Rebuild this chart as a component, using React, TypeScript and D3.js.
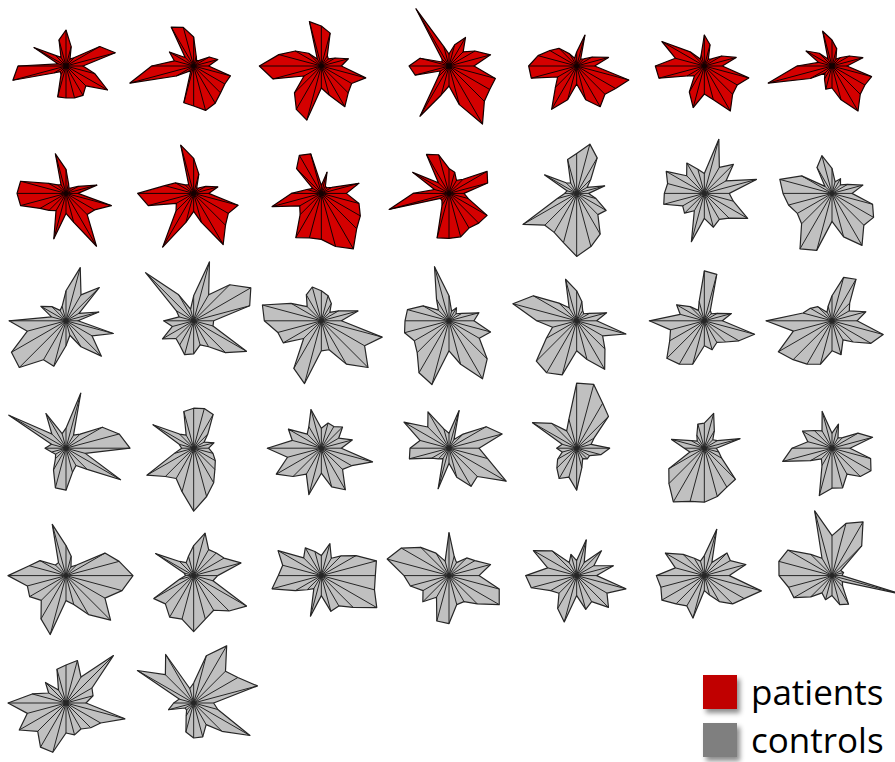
import React from "react";
import * as d3 from "d3";

// 24 measured variables per subject, spokes every 15° counter-clockwise from east
const VARIABLE_COUNT = 24;

const patientScores: number[][] = [
  [17, 51, 39, 12, 8, 20, 36, 27, 10, 15, 37, 8, 48, 55, 14, 8, 10, 32, 32, 33, 34, 28, 48, 30],
  [15, 25, 18, 8, 6, 10, 29, 40, 45, 12, 28, 20, 42, 66, 20, 8, 6, 38, 40, 46, 43, 38, 36, 38],
  [20, 28, 16, 10, 12, 34, 40, 46, 8, 18, 30, 44, 62, 50, 20, 38, 50, 56, 22, 30, 47, 38, 35, 46],
  [25, 43, 30, 20, 33, 22, 12, 20, 66, 10, 8, 30, 40, 35, 10, 15, 58, 30, 20, 40, 67, 50, 47, 48],
  [18, 33, 18, 10, 8, 32, 14, 8, 14, 25, 31, 40, 48, 47, 22, 30, 50, 35, 18, 35, 47, 40, 45, 54],
  [18, 33, 20, 10, 8, 22, 31, 12, 8, 20, 49, 30, 49, 47, 20, 14, 30, 43, 28, 35, 52, 40, 38, 46],
  [15, 32, 20, 12, 8, 18, 26, 36, 8, 18, 30, 14, 35, 66, 25, 10, 15, 24, 22, 35, 52, 40, 38, 41],
  [12, 32, 14, 8, 6, 10, 24, 41, 10, 12, 20, 47, 49, 47, 30, 24, 20, 47, 20, 30, 61, 30, 33, 47],
  [15, 25, 14, 8, 6, 20, 35, 50, 10, 12, 21, 30, 56, 47, 20, 25, 62, 30, 18, 30, 59, 45, 40, 46],
  [25, 39, 12, 8, 8, 22, 8, 41, 44, 35, 10, 15, 30, 51, 25, 30, 51, 46, 46, 55, 64, 50, 45, 39],
  [15, 40, 44, 20, 15, 22, 25, 40, 45, 15, 42, 15, 36, 62, 10, 10, 14, 46, 45, 45, 40, 42, 44, 20],
];

const controlScores: number[][] = [
  [12, 29, 12, 20, 41, 51, 40, 35, 12, 15, 37, 10, 12, 20, 62, 45, 45, 51, 63, 55, 47, 30, 34, 20],
  [25, 54, 25, 41, 30, 56, 20, 25, 35, 25, 44, 38, 40, 42, 25, 28, 20, 50, 25, 35, 30, 35, 50, 30],
  [20, 32, 18, 12, 17, 12, 25, 39, 30, 10, 35, 54, 49, 45, 40, 43, 64, 59, 28, 45, 60, 45, 48, 42],
  [12, 34, 15, 47, 30, 55, 30, 15, 12, 20, 29, 15, 57, 40, 63, 66, 45, 47, 25, 15, 30, 50, 30, 49],
  [20, 58, 66, 51, 30, 61, 25, 12, 30, 68, 20, 15, 30, 22, 36, 25, 28, 35, 33, 25, 30, 45, 61, 20],
  [20, 38, 20, 12, 20, 26, 30, 35, 30, 20, 35, 61, 57, 45, 44, 25, 55, 65, 30, 30, 50, 66, 50, 63],
  [25, 31, 15, 10, 15, 10, 25, 56, 25, 15, 30, 43, 44, 46, 40, 45, 60, 66, 30, 45, 67, 54, 35, 43],
  [20, 31, 15, 10, 12, 20, 30, 43, 15, 25, 50, 66, 40, 25, 35, 57, 60, 56, 30, 40, 56, 40, 30, 51],
  [18, 28, 15, 10, 12, 48, 50, 20, 12, 20, 32, 25, 55, 35, 40, 53, 50, 45, 25, 30, 25, 30, 40, 52],
  [25, 35, 20, 25, 48, 45, 25, 15, 10, 20, 25, 30, 66, 40, 62, 55, 50, 45, 30, 35, 22, 30, 45, 53],
  [64, 55, 42, 20, 15, 57, 20, 15, 40, 20, 66, 15, 21, 15, 12, 15, 25, 41, 42, 25, 20, 30, 63, 20],
  [15, 21, 12, 20, 39, 41, 40, 38, 15, 20, 47, 15, 12, 20, 54, 40, 35, 45, 63, 50, 40, 30, 25, 20],
  [20, 32, 20, 30, 25, 26, 20, 40, 25, 20, 38, 30, 54, 35, 52, 40, 30, 48, 25, 40, 48, 30, 35, 53],
  [30, 55, 43, 20, 10, 39, 15, 20, 42, 30, 52, 30, 39, 41, 20, 15, 12, 42, 15, 30, 44, 40, 66, 40],
  [33, 15, 20, 45, 52, 66, 65, 30, 20, 35, 51, 15, 20, 15, 22, 28, 35, 30, 42, 20, 12, 15, 15, 25],
  [12, 37, 15, 12, 20, 36, 25, 25, 15, 10, 15, 34, 20, 15, 41, 50, 62, 55, 54, 50, 45, 44, 20, 15],
  [18, 42, 30, 15, 12, 25, 15, 38, 20, 25, 34, 25, 40, 51, 25, 15, 20, 49, 40, 41, 30, 40, 45, 40],
  [67, 55, 45, 15, 10, 20, 30, 53, 15, 15, 30, 38, 58, 40, 42, 35, 50, 61, 25, 30, 45, 63, 45, 58],
  [24, 49, 35, 32, 30, 44, 30, 20, 15, 20, 44, 10, 8, 15, 46, 40, 48, 45, 56, 45, 40, 50, 61, 20],
  [54, 57, 40, 28, 20, 33, 20, 25, 32, 25, 50, 40, 43, 51, 30, 20, 15, 42, 20, 37, 35, 45, 64, 55],
  [30, 43, 30, 25, 15, 20, 43, 15, 26, 40, 55, 64, 45, 40, 30, 37, 25, 47, 48, 30, 30, 40, 58, 52],
  [20, 38, 20, 35, 15, 37, 15, 22, 15, 35, 50, 30, 51, 47, 30, 25, 38, 48, 20, 35, 30, 45, 35, 51],
  [25, 43, 30, 32, 15, 48, 20, 15, 20, 30, 45, 30, 48, 45, 49, 40, 35, 44, 15, 20, 30, 40, 46, 59],
  [10, 12, 10, 42, 62, 54, 40, 67, 20, 30, 51, 55, 53, 45, 44, 30, 20, 25, 20, 30, 33, 15, 12, 72],
  [20, 28, 30, 67, 30, 44, 38, 35, 15, 29, 20, 35, 58, 40, 54, 40, 51, 51, 30, 33, 30, 35, 40, 61],
  [20, 66, 51, 45, 66, 49, 20, 15, 56, 40, 65, 15, 20, 26, 10, 10, 15, 30, 35, 35, 25, 40, 65, 25],
];

const groupLabels = ["patients", "controls"];
const groupFills = ["#d40000", "#c0c0c0"];
const groupStrokes = ["#140000", "#262626"];
const legendSwatches = ["#c00000", "#7f7f7f"];

const WIDTH = 895;
const HEIGHT = 762;
const COLUMNS = 7;

type Glyph = { scores: number[]; group: number };

const glyphs: Glyph[] = [
  ...patientScores.map((scores) => ({ scores, group: 0 })),
  ...controlScores.map((scores) => ({ scores, group: 1 })),
];

const rowCount = Math.ceil(glyphs.length / COLUMNS);

const xCol = d3.scaleLinear().domain([0, COLUMNS - 1]).range([66, 832]);
const yRow = d3.scaleLinear().domain([0, rowCount - 1]).range([66, 703]);
const radius = d3.scaleLinear().domain([0, 70]).range([0, 70]);
const angle = d3
  .scaleLinear()
  .domain([0, VARIABLE_COUNT])
  .range([0, 2 * Math.PI]);

function vertices(scores: number[]): [number, number][] {
  return scores.map((v, k) => {
    const a = angle(k);
    const r = radius(v);
    return [r * Math.cos(a), -r * Math.sin(a)];
  });
}

const outline = d3.line().curve(d3.curveLinearClosed);

function StarGlyph({ glyph, index }: { glyph: Glyph; index: number }) {
  const cx = xCol(index % COLUMNS);
  const cy = yRow(Math.floor(index / COLUMNS));
  const pts = vertices(glyph.scores);
  const fill = groupFills[glyph.group];
  const stroke = groupStrokes[glyph.group];
  return (
    <g transform={`translate(${cx},${cy})`}>
      <path
        d={outline(pts) ?? ""}
        fill={fill}
        stroke={stroke}
        strokeWidth={1.2}
        strokeLinejoin="round"
      />
      {pts.map(([x, y], k) => (
        <line
          key={k}
          x1={0}
          y1={0}
          x2={x}
          y2={y}
          stroke={stroke}
          strokeWidth={1}
        />
      ))}
      <circle r={2.2} fill={stroke} />
    </g>
  );
}

export default function App() {
  return (
    <svg
      width={WIDTH}
      height={HEIGHT}
      style={{ display: "block", position: "absolute", left: 0, top: 0 }}
    >
      <defs>
        <filter id="swatchShadow" x="-30%" y="-30%" width="170%" height="170%">
          <feDropShadow dx="3" dy="4" stdDeviation="2.5" floodColor="#000" floodOpacity="0.45" />
        </filter>
      </defs>
      <rect width={WIDTH} height={HEIGHT} fill="#fff" />
      {glyphs.map((g, i) => (
        <StarGlyph key={i} glyph={g} index={i} />
      ))}
      <g>
        {groupLabels.map((label, i) => (
          <g key={label} transform={`translate(703,${675 + i * 48})`}>
            <rect width={34} height={34} fill={legendSwatches[i]} filter="url(#swatchShadow)" />
            <text
              x={48}
              y={30}
              fontFamily="'Open Sans', 'Noto Sans', sans-serif"
              fontSize={35}
              fill="#000"
            >
              {label}
            </text>
          </g>
        ))}
      </g>
    </svg>
  );
}
